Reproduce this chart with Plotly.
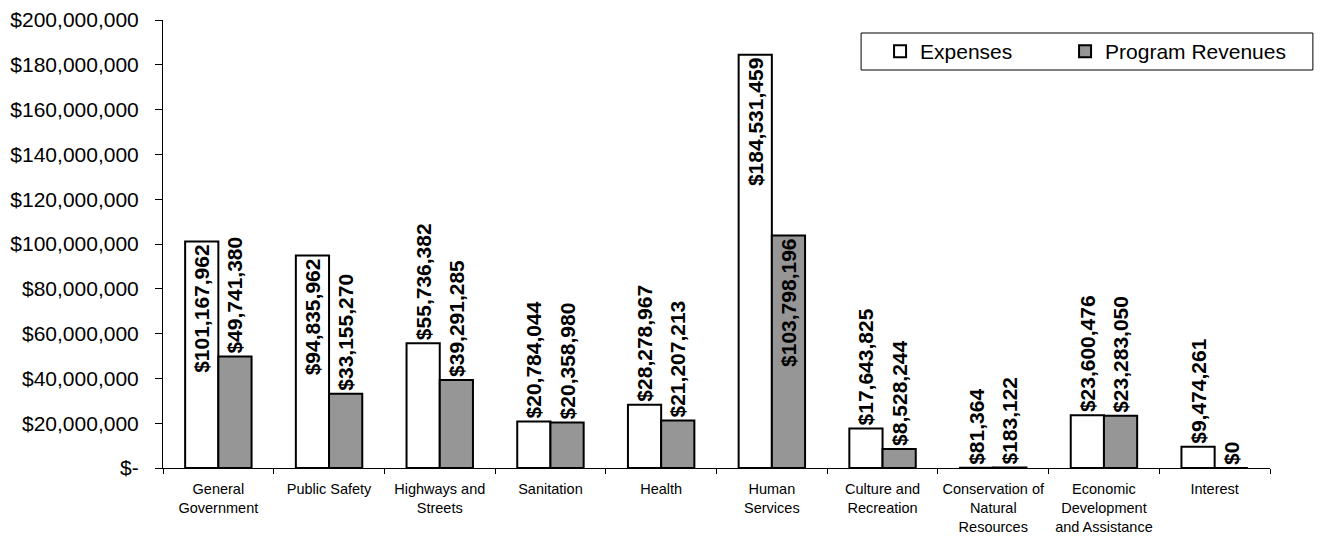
import plotly.graph_objects as go

# Functions and their totals (USD)
categories = [
    "General<br>Government",
    "Public Safety",
    "Highways and<br>Streets",
    "Sanitation",
    "Health",
    "Human<br>Services",
    "Culture and<br>Recreation",
    "Conservation of<br>Natural<br>Resources",
    "Economic<br>Development<br>and Assistance",
    "Interest",
]
expenses = [101167962, 94835962, 55736382, 20784044, 28278967,
            184531459, 17643825, 81364, 23600476, 9474261]
program_revenues = [49741380, 33155270, 39291285, 20358980, 21207213,
                    103798196, 8528244, 183122, 23283050, 0]

y_ticks = [0, 20000000, 40000000, 60000000, 80000000, 100000000,
           120000000, 140000000, 160000000, 180000000, 200000000]
y_tick_text = ["$-" if v == 0 else "${:,}".format(v) for v in y_ticks]

FONT = "Liberation Sans, Arial, sans-serif"
LABEL_FONT = dict(family=FONT, size=21, color="black")

# plot area in pixels
W, H = 1322, 540
L, R, T, B = 163, 49, 20, 72
PW, PH = W - L - R, H - T - B

# tall bars carry their value label inside, the rest above the bar
INSIDE_MIN = 90000000


def label_positions(values):
    return ["inside" if v >= INSIDE_MIN else "outside" for v in values]


def px_x(x):
    return (x - L) / PW


def px_y(y):
    return 1 - (y - T) / PH


fig = go.Figure()

fig.add_trace(go.Bar(
    name="Expenses",
    x=categories,
    y=expenses,
    marker=dict(color="white", line=dict(color="black", width=2)),
    texttemplate="<b>$%{y:,.0f}</b>",
    textposition=label_positions(expenses),
    textangle=-90,
    insidetextanchor="end",
    constraintext="none",
    insidetextfont=LABEL_FONT,
    outsidetextfont=LABEL_FONT,
    cliponaxis=False,
    legendwidth=140,
    hoverinfo="skip",
))

fig.add_trace(go.Bar(
    name="Program Revenues",
    x=categories,
    y=program_revenues,
    marker=dict(color="#969696", line=dict(color="black", width=2)),
    texttemplate="<b>$%{y:,.0f}</b>",
    textposition=label_positions(program_revenues),
    textangle=-90,
    insidetextanchor="end",
    constraintext="none",
    insidetextfont=LABEL_FONT,
    outsidetextfont=LABEL_FONT,
    cliponaxis=False,
    legendwidth=200,
    hoverinfo="skip",
))

fig.update_layout(
    width=W,
    height=H,
    margin=dict(l=L, r=R, t=T, b=B),
    paper_bgcolor="white",
    plot_bgcolor="white",
    barmode="group",
    bargap=0.4,
    bargroupgap=0,
    font=dict(family=FONT, color="black"),
    showlegend=True,
    legend=dict(
        orientation="h",
        x=px_x(882),
        xanchor="left",
        y=px_y(51.5),
        yanchor="middle",
        font=dict(family=FONT, size=21, color="black"),
        bgcolor="rgba(0,0,0,0)",
        borderwidth=0,
    ),
    shapes=[
        # legend frame
        dict(type="rect", xref="paper", yref="paper",
             x0=px_x(863), x1=px_x(1316),
             y0=px_y(70), y1=px_y(33),
             line=dict(color="black", width=1), fillcolor="white",
             layer="below"),
    ],
)

fig.update_xaxes(
    showline=True, linecolor="black", linewidth=1,
    ticks="outside", tickson="boundaries", ticklen=5, tickcolor="black",
    showgrid=False,
    tickangle=0,
    automargin=False,
    tickfont=dict(family=FONT, size=14.5, color="black"),
    ticklabelstandoff=8,
)

fig.update_yaxes(
    range=[0, 200000000],
    tickvals=y_ticks,
    ticktext=y_tick_text,
    showline=True, linecolor="black", linewidth=1,
    ticks="outside", ticklen=7, tickcolor="black",
    showgrid=False, zeroline=False,
    automargin=False,
    tickfont=dict(family=FONT, size=21, color="black"),
    ticklabelstandoff=12,
)

fig.write_html("out.html")
